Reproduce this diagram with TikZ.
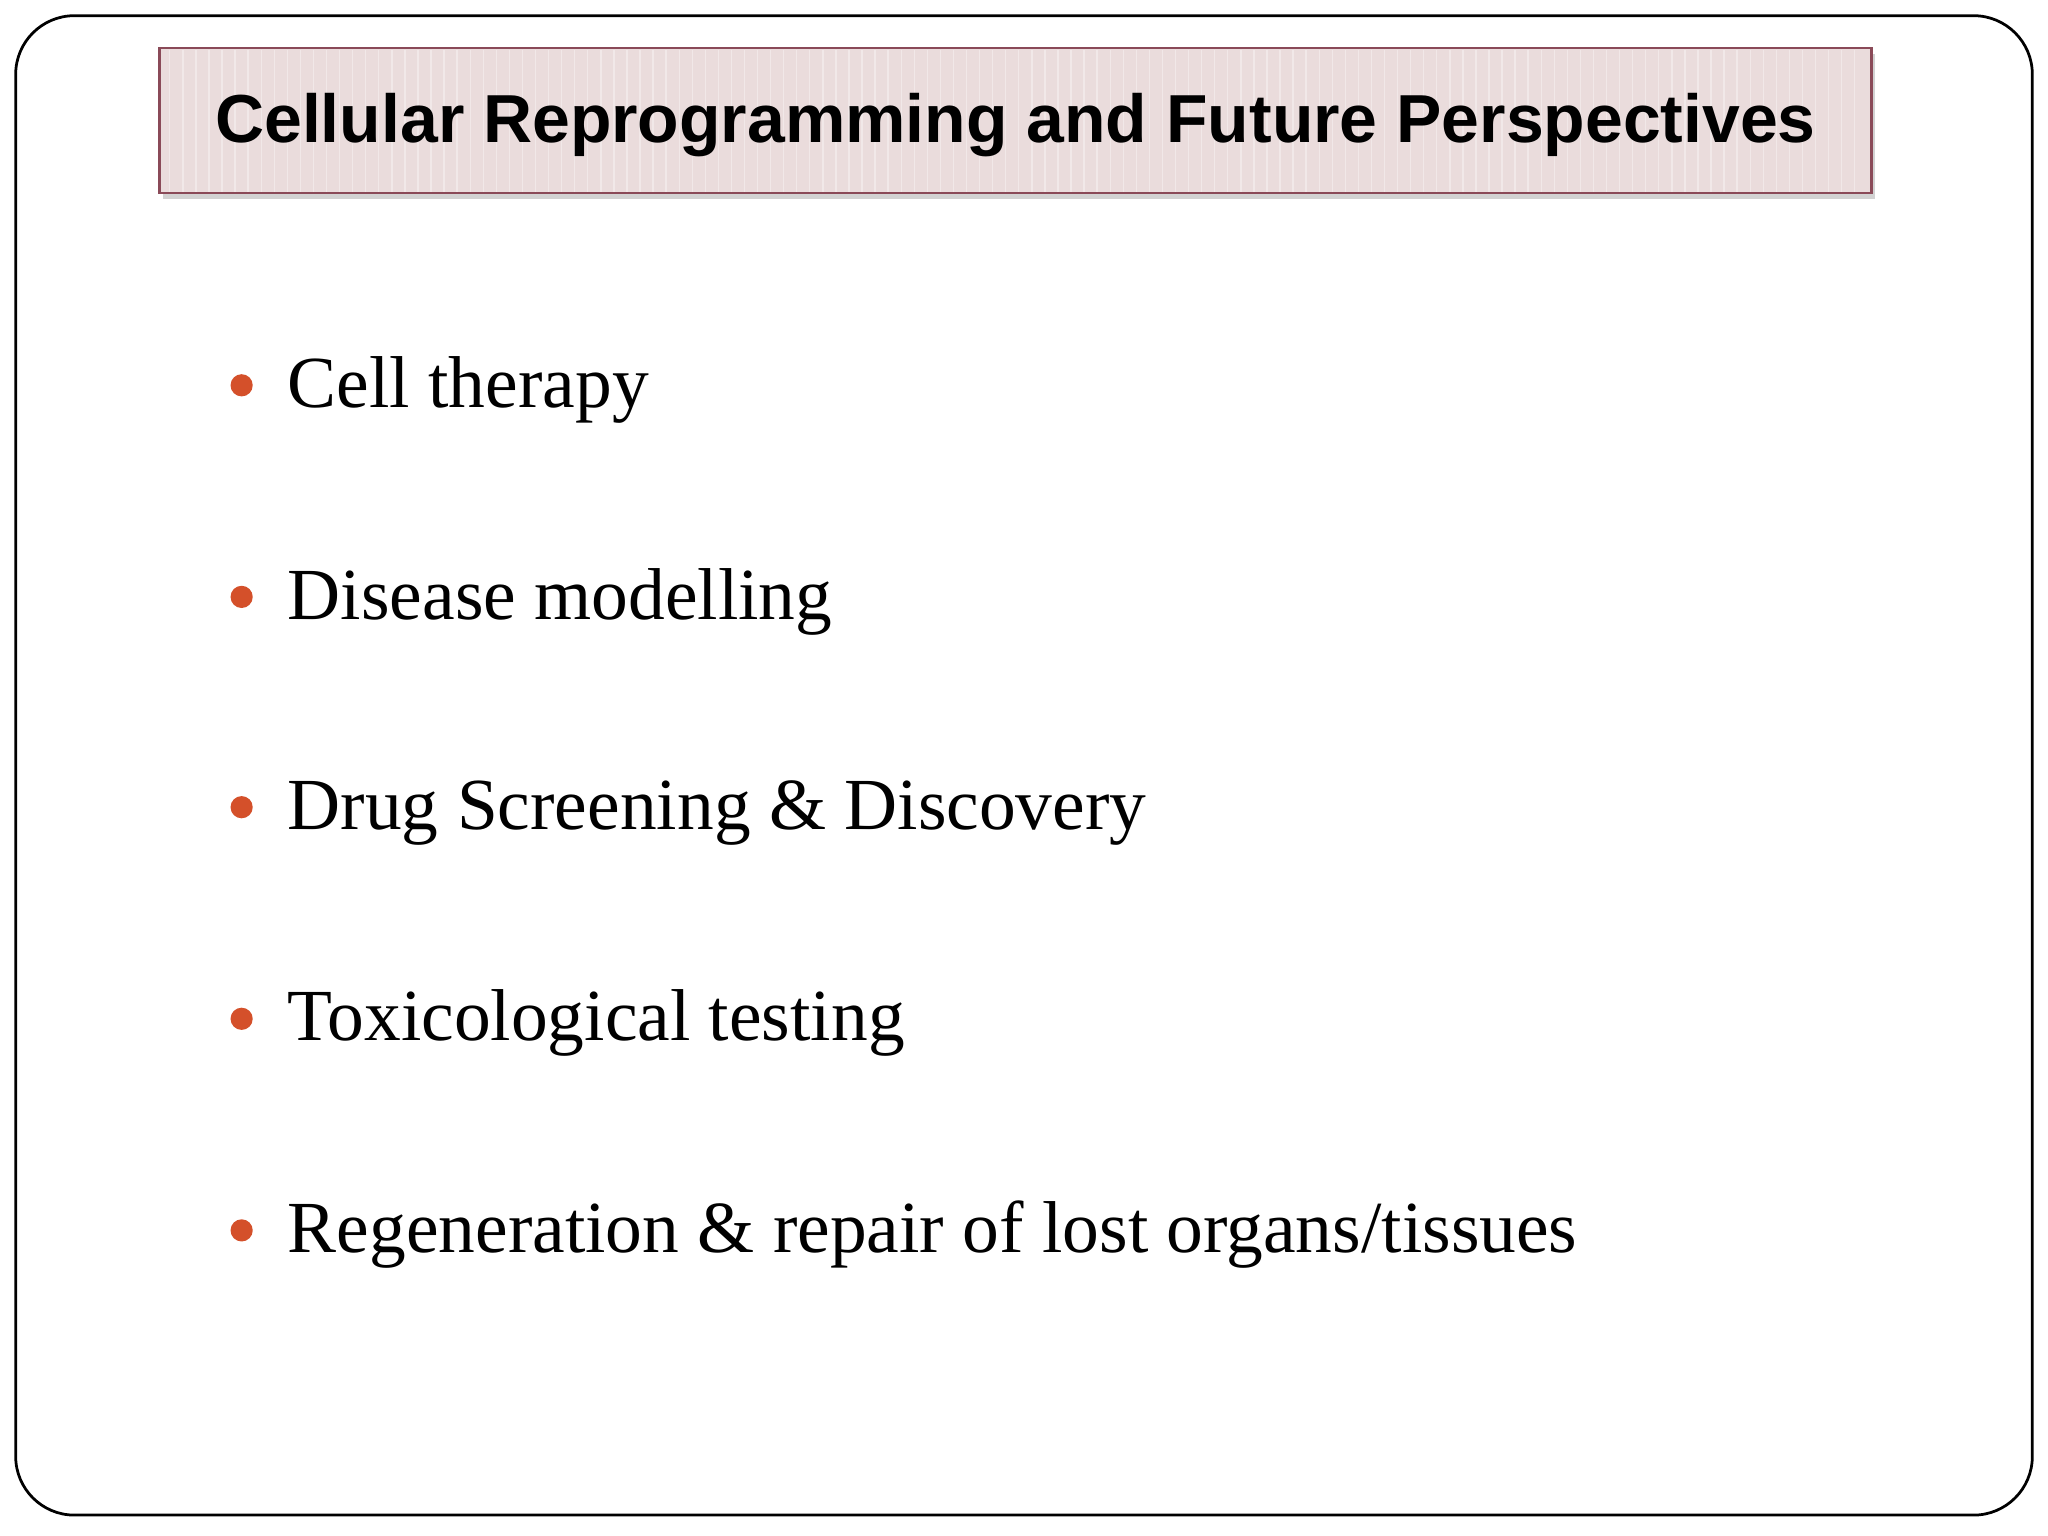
\documentclass[tikz,border=0pt]{standalone}
\usepackage{fontspec}
\setmainfont{Liberation Serif}
\newfontfamily\titlefont{Liberation Sans}
\usetikzlibrary{shadows}
\definecolor{bulletc}{HTML}{D4502A}
\definecolor{titlefill}{HTML}{EADCDC}
\definecolor{titleline}{HTML}{8A4A58}
\tikzset{
  bul/.style={circle,fill=bulletc,inner sep=0pt,minimum size=0.34cm},
  item/.style={anchor=base west,inner sep=0pt,font=\fontsize{32}{36}\selectfont},
}
\begin{document}
\begin{tikzpicture}[x=0.02cm,y=-0.02cm]
\useasboundingbox (0,0) rectangle (1568,1176);
\fill[white] (0,0) rectangle (1568,1176);
\draw[line width=1.2pt,rounded corners=0.9cm] (12,12) rectangle (1556,1160);
\node[draw=titleline,line width=1pt,fill=titlefill,drop shadow={opacity=0.35,shadow xshift=0.05cm,shadow yshift=-0.08cm},
  minimum width=26.22cm,minimum height=2.22cm,inner sep=0pt] (title) at (777.5,92.5) {};
\foreach \x in {130,140,...,1425} \draw[white,opacity=0.35,line width=0.6pt] (\x,38) -- (\x,147);
\node[font=\titlefont\bfseries\fontsize{29.6}{34}\selectfont] (tt) at (777.5,96) {Cellular Reprogramming and Future Perspectives};
\foreach \y/\t [count=\i] in {312/{Cell therapy},474/{Disease modelling},635/{Drug Screening \& Discovery},797/{Toxicological testing},959/{Regeneration \& repair of lost organs{/}tissues}}{
  \node[bul] (b\i) at (185,\y-17) {};
  \node[item] (t\i) at (220,\y) {\t};
}
\end{tikzpicture}
\end{document}
